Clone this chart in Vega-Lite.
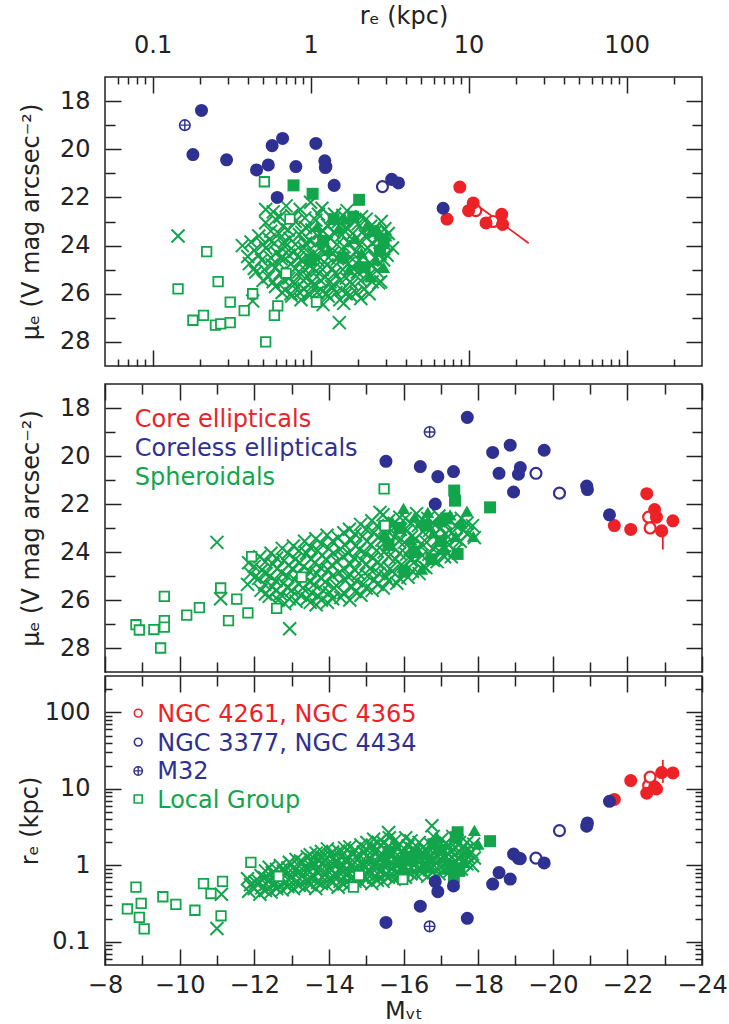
{
"$schema":"https://vega.github.io/schema/vega-lite/v6.json",
"background":"white",
"padding":{"left":17,"top":3,"right":10,"bottom":0},
"spacing":0,
"config":{
 "font":"DejaVu Sans",
 "view":{"stroke":"#222","strokeWidth":1.5},
 "axis":{"domain":false,"grid":false,"tickColor":"#222","tickWidth":1.5,"labelColor":"#222","titleColor":"#222","labelFont":"DejaVu Sans","titleFont":"DejaVu Sans","labelFontSize":24,"titleFontSize":24,"titleFontWeight":"normal","labelOverlap":false,"labelFlush":false}
},
"datasets":{
 "ell":[
  {"cls":"core","k":"f","re":8.8,"mu":21.57,"M":-22.52},
  {"cls":"core","k":"f","re":10.7,"mu":22.23,"M":-22.73},
  {"cls":"core","k":"f","re":7.3,"mu":22.9,"M":-21.65},
  {"cls":"core","k":"f","re":12.9,"mu":23.06,"M":-22.09},
  {"cls":"core","k":"f","re":16.4,"mu":23.12,"M":-22.92},
  {"cls":"core","k":"f","re":16.2,"mu":22.7,"M":-23.22},
  {"cls":"core","k":"f","re":10.0,"mu":22.55,"M":-22.78},
  {"cls":"core","k":"o","re":11.1,"mu":22.55,"M":-22.57},
  {"cls":"core","k":"o","re":14.3,"mu":23.0,"M":-22.61},
  {"cls":"coreless","k":"f","re":0.204,"mu":18.39,"M":-17.71},
  {"cls":"coreless","k":"f","re":0.18,"mu":20.22,"M":-15.53},
  {"cls":"coreless","k":"f","re":0.294,"mu":20.44,"M":-16.45},
  {"cls":"coreless","k":"f","re":0.455,"mu":20.86,"M":-16.92},
  {"cls":"coreless","k":"f","re":0.54,"mu":20.65,"M":-17.34},
  {"cls":"coreless","k":"f","re":0.615,"mu":22.0,"M":-16.85},
  {"cls":"coreless","k":"f","re":0.571,"mu":19.85,"M":-18.39},
  {"cls":"coreless","k":"f","re":0.665,"mu":19.55,"M":-18.86},
  {"cls":"coreless","k":"f","re":0.807,"mu":20.72,"M":-18.56},
  {"cls":"coreless","k":"f","re":1.08,"mu":19.76,"M":-19.77},
  {"cls":"coreless","k":"f","re":1.23,"mu":20.48,"M":-19.13},
  {"cls":"coreless","k":"f","re":1.24,"mu":20.76,"M":-19.08},
  {"cls":"coreless","k":"f","re":1.41,"mu":21.5,"M":-18.95},
  {"cls":"coreless","k":"f","re":3.26,"mu":21.25,"M":-20.91},
  {"cls":"coreless","k":"f","re":3.6,"mu":21.4,"M":-20.93},
  {"cls":"coreless","k":"f","re":6.9,"mu":22.45,"M":-21.52},
  {"cls":"coreless","k":"o","re":2.85,"mu":21.55,"M":-20.18},
  {"cls":"coreless","k":"o","re":1.25,"mu":20.72,"M":-19.55},
  {"cls":"coreless","k":"m","re":0.16,"mu":19.0,"M":-16.7}
 ],
 "err":[
  {"p":"t","re":12,"re2":24,"mu":22.45,"mu2":23.9},
  {"p":"m","M":-22.95,"mu":23.1,"mu2":23.9},
  {"p":"b","M":-22.95,"re":12,"re2":24}
 ],
 "sphT":[
  {"k":"x","re":0.58,"mu":22.6},{"k":"x","re":0.7,"mu":22.35},{"k":"x","re":0.86,"mu":22.5},{"k":"x","re":1.0,"mu":22.2},{"k":"x","re":1.18,"mu":22.45},{"k":"x","re":1.42,"mu":22.7},{"k":"x","re":1.7,"mu":22.55},{"k":"x","re":2.1,"mu":22.8},
  {"k":"x","re":0.52,"mu":23.05},{"k":"x","re":0.6,"mu":22.9},{"k":"x","re":0.67,"mu":23.2},{"k":"x","re":0.8,"mu":23.0},{"k":"x","re":0.93,"mu":23.25},{"k":"x","re":1.08,"mu":22.95},{"k":"x","re":1.28,"mu":23.15},{"k":"x","re":1.5,"mu":23.0},{"k":"x","re":1.72,"mu":23.3},{"k":"x","re":2.0,"mu":23.1},{"k":"x","re":2.4,"mu":23.2},{"k":"x","re":2.8,"mu":23.0},
  {"k":"x","re":0.47,"mu":23.6},{"k":"x","re":0.55,"mu":23.75},{"k":"x","re":0.63,"mu":23.5},{"k":"x","re":0.74,"mu":23.7},{"k":"x","re":0.85,"mu":23.55},{"k":"x","re":0.99,"mu":23.8},{"k":"x","re":1.14,"mu":23.5},{"k":"x","re":1.33,"mu":23.7},{"k":"x","re":1.58,"mu":23.55},{"k":"x","re":1.88,"mu":23.8},{"k":"x","re":2.22,"mu":23.6},{"k":"x","re":2.65,"mu":23.75},{"k":"x","re":3.1,"mu":23.5},
  {"k":"x","re":0.37,"mu":24.0},{"k":"x","re":0.44,"mu":24.2},{"k":"x","re":0.52,"mu":24.1},{"k":"x","re":0.61,"mu":24.3},{"k":"x","re":0.69,"mu":24.05},{"k":"x","re":0.79,"mu":24.25},{"k":"x","re":0.91,"mu":24.1},{"k":"x","re":1.04,"mu":24.35},{"k":"x","re":1.19,"mu":24.15},{"k":"x","re":1.38,"mu":24.3},{"k":"x","re":1.63,"mu":24.05},{"k":"x","re":1.93,"mu":24.25},{"k":"x","re":2.3,"mu":24.1},{"k":"x","re":2.75,"mu":24.35},{"k":"x","re":3.3,"mu":24.1},
  {"k":"x","re":0.41,"mu":24.75},{"k":"x","re":0.49,"mu":24.6},{"k":"x","re":0.57,"mu":24.8},{"k":"x","re":0.65,"mu":24.55},{"k":"x","re":0.75,"mu":24.75},{"k":"x","re":0.87,"mu":24.6},{"k":"x","re":0.99,"mu":24.85},{"k":"x","re":1.11,"mu":24.6},{"k":"x","re":1.27,"mu":24.8},{"k":"x","re":1.48,"mu":24.55},{"k":"x","re":1.73,"mu":24.75},{"k":"x","re":2.03,"mu":24.6},{"k":"x","re":2.45,"mu":24.8},{"k":"x","re":2.9,"mu":24.6},
  {"k":"x","re":0.45,"mu":25.1},{"k":"x","re":0.54,"mu":25.3},{"k":"x","re":0.64,"mu":25.15},{"k":"x","re":0.73,"mu":25.35},{"k":"x","re":0.84,"mu":25.1},{"k":"x","re":0.96,"mu":25.3},{"k":"x","re":1.09,"mu":25.05},{"k":"x","re":1.24,"mu":25.3},{"k":"x","re":1.43,"mu":25.15},{"k":"x","re":1.68,"mu":25.35},{"k":"x","re":1.98,"mu":25.1},{"k":"x","re":2.33,"mu":25.25},{"k":"x","re":2.78,"mu":25.5},
  {"k":"x","re":0.6,"mu":25.7},{"k":"x","re":0.69,"mu":25.85},{"k":"x","re":0.79,"mu":25.6},{"k":"x","re":0.91,"mu":25.8},{"k":"x","re":1.04,"mu":25.65},{"k":"x","re":1.19,"mu":25.9},{"k":"x","re":1.36,"mu":25.7},{"k":"x","re":1.58,"mu":25.85},{"k":"x","re":1.83,"mu":25.6},{"k":"x","re":2.18,"mu":25.8},{"k":"x","re":2.7,"mu":25.55},
  {"k":"x","re":0.76,"mu":26.1},{"k":"x","re":0.87,"mu":26.25},{"k":"x","re":0.99,"mu":26.05},{"k":"x","re":1.14,"mu":26.3},{"k":"x","re":1.29,"mu":26.1},{"k":"x","re":1.53,"mu":26.25},{"k":"x","re":1.78,"mu":26.05},{"k":"x","re":2.08,"mu":26.2},
  {"k":"x","re":0.64,"mu":22.8},{"k":"x","re":0.76,"mu":22.75},{"k":"x","re":0.92,"mu":22.85},{"k":"x","re":1.12,"mu":22.7},{"k":"x","re":1.35,"mu":22.85},{"k":"x","re":1.6,"mu":22.75},{"k":"x","re":1.9,"mu":22.95},{"k":"x","re":2.25,"mu":22.9},
  {"k":"x","re":0.56,"mu":23.4},{"k":"x","re":0.72,"mu":23.35},{"k":"x","re":0.88,"mu":23.45},{"k":"x","re":1.02,"mu":23.35},{"k":"x","re":1.2,"mu":23.4},{"k":"x","re":1.4,"mu":23.45},{"k":"x","re":1.62,"mu":23.35},{"k":"x","re":1.85,"mu":23.5},{"k":"x","re":2.15,"mu":23.4},{"k":"x","re":2.55,"mu":23.45},{"k":"x","re":2.95,"mu":23.3},
  {"k":"x","re":0.42,"mu":23.85},{"k":"x","re":0.5,"mu":23.95},{"k":"x","re":0.59,"mu":23.9},{"k":"x","re":0.68,"mu":23.85},{"k":"x","re":0.8,"mu":23.95},{"k":"x","re":0.93,"mu":23.9},{"k":"x","re":1.07,"mu":23.95},{"k":"x","re":1.25,"mu":23.9},{"k":"x","re":1.47,"mu":23.95},{"k":"x","re":1.75,"mu":23.9},{"k":"x","re":2.05,"mu":23.95},{"k":"x","re":2.45,"mu":23.9},{"k":"x","re":2.95,"mu":23.95},
  {"k":"x","re":0.4,"mu":24.45},{"k":"x","re":0.47,"mu":24.4},{"k":"x","re":0.56,"mu":24.5},{"k":"x","re":0.66,"mu":24.45},{"k":"x","re":0.73,"mu":24.4},{"k":"x","re":0.84,"mu":24.5},{"k":"x","re":0.96,"mu":24.45},{"k":"x","re":1.12,"mu":24.45},{"k":"x","re":1.3,"mu":24.5},{"k":"x","re":1.52,"mu":24.4},{"k":"x","re":1.8,"mu":24.5},{"k":"x","re":2.15,"mu":24.45},{"k":"x","re":2.55,"mu":24.5},{"k":"x","re":3.05,"mu":24.4},
  {"k":"x","re":0.44,"mu":24.95},{"k":"x","re":0.51,"mu":25.0},{"k":"x","re":0.6,"mu":24.9},{"k":"x","re":0.69,"mu":25.0},{"k":"x","re":0.8,"mu":24.95},{"k":"x","re":0.92,"mu":25.0},{"k":"x","re":1.04,"mu":24.95},{"k":"x","re":1.19,"mu":25.0},{"k":"x","re":1.37,"mu":24.95},{"k":"x","re":1.6,"mu":25.0},{"k":"x","re":1.86,"mu":24.95},{"k":"x","re":2.2,"mu":25.0},{"k":"x","re":2.62,"mu":25.05},
  {"k":"x","re":0.5,"mu":25.45},{"k":"x","re":0.58,"mu":25.5},{"k":"x","re":0.68,"mu":25.45},{"k":"x","re":0.78,"mu":25.5},{"k":"x","re":0.9,"mu":25.45},{"k":"x","re":1.02,"mu":25.5},{"k":"x","re":1.16,"mu":25.45},{"k":"x","re":1.33,"mu":25.5},{"k":"x","re":1.54,"mu":25.45},{"k":"x","re":1.78,"mu":25.5},{"k":"x","re":2.08,"mu":25.45},{"k":"x","re":2.45,"mu":25.5},
  {"k":"x","re":0.66,"mu":25.95},{"k":"x","re":0.75,"mu":26.0},{"k":"x","re":0.85,"mu":25.95},{"k":"x","re":0.97,"mu":26.0},{"k":"x","re":1.1,"mu":25.95},{"k":"x","re":1.26,"mu":26.0},{"k":"x","re":1.45,"mu":25.95},{"k":"x","re":1.68,"mu":26.0},{"k":"x","re":1.95,"mu":25.95},{"k":"x","re":2.35,"mu":26.0},
  {"k":"x","re":1.2,"mu":26.45},{"k":"x","re":1.62,"mu":26.4},
  {"k":"x","re":0.145,"mu":23.6},{"k":"x","re":1.52,"mu":27.2},{"k":"x","re":0.43,"mu":26.3},{"k":"x","re":0.52,"mu":22.5},
  {"k":"s","re":0.78,"mu":21.5},{"k":"s","re":1.03,"mu":21.85},{"k":"s","re":2.03,"mu":22.1},{"k":"s","re":1.86,"mu":22.8},{"k":"s","re":2.75,"mu":24.2},{"k":"s","re":2.9,"mu":23.9},{"k":"s","re":1.4,"mu":22.9},{"k":"s","re":1.2,"mu":23.8},{"k":"s","re":1.6,"mu":24.5},{"k":"s","re":2.2,"mu":24.9},{"k":"s","re":1.0,"mu":24.6},{"k":"s","re":2.5,"mu":23.4},
  {"k":"t","re":2.74,"mu":23.5},{"k":"t","re":2.3,"mu":23.1},{"k":"t","re":1.9,"mu":23.7},{"k":"t","re":1.5,"mu":23.3},{"k":"t","re":2.6,"mu":24.6},{"k":"t","re":2.1,"mu":24.3},{"k":"t","re":1.3,"mu":24.2},{"k":"t","re":1.75,"mu":25.0},{"k":"t","re":2.9,"mu":24.9},{"k":"t","re":1.1,"mu":23.2},{"k":"t","re":2.4,"mu":25.3},{"k":"t","re":3.0,"mu":23.6},{"k":"t","re":1.65,"mu":22.9},{"k":"t","re":2.0,"mu":24.8},
  {"k":"o","re":0.51,"mu":21.35},{"k":"o","re":0.74,"mu":22.9},{"k":"o","re":0.22,"mu":24.25},{"k":"o","re":0.145,"mu":25.8},{"k":"o","re":0.26,"mu":25.5},{"k":"o","re":0.43,"mu":26.0},{"k":"o","re":0.31,"mu":26.35},{"k":"o","re":0.38,"mu":26.7},{"k":"o","re":0.18,"mu":27.1},{"k":"o","re":0.21,"mu":26.9},{"k":"o","re":0.25,"mu":27.3},{"k":"o","re":0.27,"mu":27.25},{"k":"o","re":0.31,"mu":27.2},{"k":"o","re":0.62,"mu":26.5},{"k":"o","re":0.59,"mu":26.9},{"k":"o","re":0.52,"mu":28.0},{"k":"o","re":1.09,"mu":26.35},{"k":"o","re":0.7,"mu":25.15}
 ],
 "sphM":[
  {"k":"x","M":-11.85,"mu":24.45},{"k":"x","M":-11.9,"mu":24.9},{"k":"x","M":-11.82,"mu":25.35},
  {"k":"x","M":-12.15,"mu":24.2},{"k":"x","M":-12.2,"mu":24.75},{"k":"x","M":-12.12,"mu":25.1},{"k":"x","M":-12.18,"mu":25.6},
  {"k":"x","M":-12.45,"mu":24.05},{"k":"x","M":-12.5,"mu":24.5},{"k":"x","M":-12.42,"mu":25.0},{"k":"x","M":-12.48,"mu":25.45},{"k":"x","M":-12.4,"mu":25.85},
  {"k":"x","M":-12.75,"mu":23.85},{"k":"x","M":-12.8,"mu":24.35},{"k":"x","M":-12.72,"mu":24.85},{"k":"x","M":-12.78,"mu":25.3},{"k":"x","M":-12.7,"mu":25.75},{"k":"x","M":-12.82,"mu":26.15},
  {"k":"x","M":-13.05,"mu":23.75},{"k":"x","M":-13.1,"mu":24.3},{"k":"x","M":-13.02,"mu":24.7},{"k":"x","M":-13.08,"mu":25.15},{"k":"x","M":-13.0,"mu":25.6},{"k":"x","M":-13.12,"mu":26.05},
  {"k":"x","M":-13.35,"mu":23.55},{"k":"x","M":-13.4,"mu":24.05},{"k":"x","M":-13.32,"mu":24.6},{"k":"x","M":-13.38,"mu":25.05},{"k":"x","M":-13.3,"mu":25.5},{"k":"x","M":-13.42,"mu":25.95},
  {"k":"x","M":-13.65,"mu":23.45},{"k":"x","M":-13.7,"mu":23.95},{"k":"x","M":-13.62,"mu":24.45},{"k":"x","M":-13.68,"mu":24.9},{"k":"x","M":-13.6,"mu":25.35},{"k":"x","M":-13.72,"mu":25.85},{"k":"x","M":-13.66,"mu":26.2},
  {"k":"x","M":-13.95,"mu":23.3},{"k":"x","M":-14.0,"mu":23.85},{"k":"x","M":-13.92,"mu":24.3},{"k":"x","M":-13.98,"mu":24.75},{"k":"x","M":-13.9,"mu":25.25},{"k":"x","M":-14.02,"mu":25.7},{"k":"x","M":-13.96,"mu":26.1},
  {"k":"x","M":-14.25,"mu":23.4},{"k":"x","M":-14.3,"mu":23.9},{"k":"x","M":-14.22,"mu":24.4},{"k":"x","M":-14.28,"mu":24.85},{"k":"x","M":-14.2,"mu":25.4},{"k":"x","M":-14.32,"mu":25.9},
  {"k":"x","M":-14.55,"mu":23.05},{"k":"x","M":-14.6,"mu":23.5},{"k":"x","M":-14.52,"mu":24.05},{"k":"x","M":-14.58,"mu":24.5},{"k":"x","M":-14.5,"mu":25.0},{"k":"x","M":-14.62,"mu":25.45},{"k":"x","M":-14.56,"mu":26.0},
  {"k":"x","M":-14.85,"mu":22.85},{"k":"x","M":-14.9,"mu":23.35},{"k":"x","M":-14.82,"mu":23.9},{"k":"x","M":-14.88,"mu":24.35},{"k":"x","M":-14.8,"mu":24.9},{"k":"x","M":-14.92,"mu":25.35},{"k":"x","M":-14.86,"mu":25.8},
  {"k":"x","M":-15.15,"mu":22.7},{"k":"x","M":-15.2,"mu":23.2},{"k":"x","M":-15.12,"mu":23.7},{"k":"x","M":-15.18,"mu":24.25},{"k":"x","M":-15.1,"mu":24.7},{"k":"x","M":-15.22,"mu":25.15},{"k":"x","M":-15.16,"mu":25.6},
  {"k":"x","M":-15.45,"mu":22.45},{"k":"x","M":-15.5,"mu":23.0},{"k":"x","M":-15.42,"mu":23.5},{"k":"x","M":-15.48,"mu":24.0},{"k":"x","M":-15.4,"mu":24.55},{"k":"x","M":-15.52,"mu":25.0},{"k":"x","M":-15.46,"mu":25.5},
  {"k":"x","M":-15.75,"mu":22.8},{"k":"x","M":-15.8,"mu":23.3},{"k":"x","M":-15.72,"mu":23.8},{"k":"x","M":-15.78,"mu":24.3},{"k":"x","M":-15.7,"mu":24.8},{"k":"x","M":-15.82,"mu":25.3},
  {"k":"x","M":-16.05,"mu":22.6},{"k":"x","M":-16.1,"mu":23.1},{"k":"x","M":-16.02,"mu":23.6},{"k":"x","M":-16.08,"mu":24.1},{"k":"x","M":-16.0,"mu":24.6},{"k":"x","M":-16.12,"mu":25.05},
  {"k":"x","M":-16.35,"mu":22.4},{"k":"x","M":-16.4,"mu":22.9},{"k":"x","M":-16.32,"mu":23.45},{"k":"x","M":-16.38,"mu":23.9},{"k":"x","M":-16.3,"mu":24.4},{"k":"x","M":-16.42,"mu":24.9},
  {"k":"x","M":-16.65,"mu":22.6},{"k":"x","M":-16.7,"mu":23.1},{"k":"x","M":-16.62,"mu":23.6},{"k":"x","M":-16.68,"mu":24.1},{"k":"x","M":-16.6,"mu":24.65},
  {"k":"x","M":-16.95,"mu":22.5},{"k":"x","M":-17.0,"mu":23.0},{"k":"x","M":-16.92,"mu":23.5},{"k":"x","M":-16.98,"mu":24.0},{"k":"x","M":-16.9,"mu":24.4},
  {"k":"x","M":-17.25,"mu":22.7},{"k":"x","M":-17.3,"mu":23.2},{"k":"x","M":-17.22,"mu":23.7},{"k":"x","M":-17.28,"mu":24.2},
  {"k":"x","M":-17.55,"mu":22.6},{"k":"x","M":-17.6,"mu":23.1},{"k":"x","M":-17.52,"mu":23.55},
  {"k":"x","M":-17.85,"mu":22.9},{"k":"x","M":-17.9,"mu":23.4},
  {"k":"x","M":-12.0,"mu":24.6},{"k":"x","M":-12.02,"mu":25.05},
  {"k":"x","M":-12.3,"mu":24.4},{"k":"x","M":-12.32,"mu":24.9},{"k":"x","M":-12.28,"mu":25.35},{"k":"x","M":-12.3,"mu":25.75},
  {"k":"x","M":-12.6,"mu":24.25},{"k":"x","M":-12.62,"mu":24.7},{"k":"x","M":-12.58,"mu":25.2},{"k":"x","M":-12.6,"mu":25.6},{"k":"x","M":-12.64,"mu":26.0},
  {"k":"x","M":-12.9,"mu":24.05},{"k":"x","M":-12.92,"mu":24.55},{"k":"x","M":-12.88,"mu":25.0},{"k":"x","M":-12.9,"mu":25.5},{"k":"x","M":-12.94,"mu":25.95},
  {"k":"x","M":-13.2,"mu":23.95},{"k":"x","M":-13.22,"mu":24.45},{"k":"x","M":-13.18,"mu":24.9},{"k":"x","M":-13.2,"mu":25.35},{"k":"x","M":-13.24,"mu":25.8},
  {"k":"x","M":-13.5,"mu":23.8},{"k":"x","M":-13.52,"mu":24.3},{"k":"x","M":-13.48,"mu":24.8},{"k":"x","M":-13.5,"mu":25.25},{"k":"x","M":-13.54,"mu":25.7},{"k":"x","M":-13.5,"mu":26.1},
  {"k":"x","M":-13.8,"mu":23.65},{"k":"x","M":-13.82,"mu":24.15},{"k":"x","M":-13.78,"mu":24.65},{"k":"x","M":-13.8,"mu":25.1},{"k":"x","M":-13.84,"mu":25.6},{"k":"x","M":-13.8,"mu":26.0},
  {"k":"x","M":-14.1,"mu":23.55},{"k":"x","M":-14.12,"mu":24.05},{"k":"x","M":-14.08,"mu":24.55},{"k":"x","M":-14.1,"mu":25.0},{"k":"x","M":-14.14,"mu":25.5},{"k":"x","M":-14.1,"mu":25.95},
  {"k":"x","M":-14.4,"mu":23.2},{"k":"x","M":-14.42,"mu":23.7},{"k":"x","M":-14.38,"mu":24.2},{"k":"x","M":-14.4,"mu":24.7},{"k":"x","M":-14.44,"mu":25.2},{"k":"x","M":-14.4,"mu":25.7},
  {"k":"x","M":-14.7,"mu":23.25},{"k":"x","M":-14.72,"mu":23.75},{"k":"x","M":-14.68,"mu":24.25},{"k":"x","M":-14.7,"mu":24.75},{"k":"x","M":-14.74,"mu":25.2},{"k":"x","M":-14.7,"mu":25.65},
  {"k":"x","M":-15.0,"mu":23.05},{"k":"x","M":-15.02,"mu":23.55},{"k":"x","M":-14.98,"mu":24.05},{"k":"x","M":-15.0,"mu":24.5},{"k":"x","M":-15.04,"mu":25.0},{"k":"x","M":-15.0,"mu":25.5},
  {"k":"x","M":-15.3,"mu":22.9},{"k":"x","M":-15.32,"mu":23.4},{"k":"x","M":-15.28,"mu":23.95},{"k":"x","M":-15.3,"mu":24.45},{"k":"x","M":-15.34,"mu":24.9},{"k":"x","M":-15.3,"mu":25.35},
  {"k":"x","M":-15.6,"mu":22.7},{"k":"x","M":-15.62,"mu":23.2},{"k":"x","M":-15.58,"mu":23.7},{"k":"x","M":-15.6,"mu":24.2},{"k":"x","M":-15.64,"mu":24.7},{"k":"x","M":-15.6,"mu":25.2},
  {"k":"x","M":-15.9,"mu":22.55},{"k":"x","M":-15.92,"mu":23.05},{"k":"x","M":-15.88,"mu":23.55},{"k":"x","M":-15.9,"mu":24.05},{"k":"x","M":-15.94,"mu":24.55},{"k":"x","M":-15.9,"mu":25.1},
  {"k":"x","M":-16.2,"mu":22.8},{"k":"x","M":-16.22,"mu":23.35},{"k":"x","M":-16.18,"mu":23.85},{"k":"x","M":-16.2,"mu":24.35},{"k":"x","M":-16.24,"mu":24.8},
  {"k":"x","M":-16.5,"mu":22.65},{"k":"x","M":-16.52,"mu":23.15},{"k":"x","M":-16.48,"mu":23.65},{"k":"x","M":-16.5,"mu":24.15},{"k":"x","M":-16.54,"mu":24.6},
  {"k":"x","M":-16.8,"mu":22.8},{"k":"x","M":-16.82,"mu":23.3},{"k":"x","M":-16.78,"mu":23.85},{"k":"x","M":-16.8,"mu":24.35},
  {"k":"x","M":-17.1,"mu":22.75},{"k":"x","M":-17.12,"mu":23.25},{"k":"x","M":-17.08,"mu":23.75},{"k":"x","M":-17.1,"mu":24.2},
  {"k":"x","M":-17.4,"mu":22.9},{"k":"x","M":-17.42,"mu":23.45},{"k":"x","M":-17.38,"mu":23.95},
  {"k":"x","M":-17.7,"mu":22.8},{"k":"x","M":-17.72,"mu":23.25},
  {"k":"x","M":-11.0,"mu":23.6},{"k":"x","M":-11.1,"mu":25.95},{"k":"x","M":-12.95,"mu":27.2},{"k":"x","M":-15.37,"mu":22.35},
  {"k":"s","M":-17.36,"mu":21.44},{"k":"s","M":-17.38,"mu":21.86},{"k":"s","M":-18.32,"mu":22.14},{"k":"s","M":-17.45,"mu":24.08},{"k":"s","M":-16.02,"mu":24.82},{"k":"s","M":-16.29,"mu":24.0},{"k":"s","M":-15.9,"mu":23.0},{"k":"s","M":-16.6,"mu":22.9},{"k":"s","M":-17.0,"mu":23.55},{"k":"s","M":-16.75,"mu":24.3},{"k":"s","M":-17.15,"mu":22.6},{"k":"s","M":-15.6,"mu":23.7},
  {"k":"t","M":-16.0,"mu":22.18},{"k":"t","M":-16.3,"mu":22.55},{"k":"t","M":-16.65,"mu":22.35},{"k":"t","M":-16.95,"mu":22.7},{"k":"t","M":-17.25,"mu":22.45},{"k":"t","M":-17.55,"mu":22.8},{"k":"t","M":-17.87,"mu":23.35},{"k":"t","M":-17.4,"mu":23.35},{"k":"t","M":-16.49,"mu":24.71},{"k":"t","M":-16.8,"mu":23.2},{"k":"t","M":-17.1,"mu":23.9},{"k":"t","M":-15.7,"mu":22.75},{"k":"t","M":-15.5,"mu":23.25},{"k":"t","M":-17.7,"mu":22.3},{"k":"t","M":-16.2,"mu":23.5},
  {"k":"o","M":-8.83,"mu":27.03},{"k":"o","M":-8.92,"mu":27.25},{"k":"o","M":-9.31,"mu":27.23},{"k":"o","M":-9.49,"mu":28.0},{"k":"o","M":-9.59,"mu":26.86},{"k":"o","M":-9.59,"mu":27.13},{"k":"o","M":-9.59,"mu":25.85},{"k":"o","M":-10.19,"mu":26.63},{"k":"o","M":-10.53,"mu":26.32},{"k":"o","M":-11.1,"mu":25.5},{"k":"o","M":-11.31,"mu":26.86},{"k":"o","M":-11.53,"mu":25.96},{"k":"o","M":-11.83,"mu":26.54},{"k":"o","M":-11.93,"mu":24.19},{"k":"o","M":-12.6,"mu":26.35},{"k":"o","M":-13.27,"mu":25.05},{"k":"o","M":-15.48,"mu":21.37},{"k":"o","M":-15.5,"mu":22.9}
 ],
 "sphB":[
  {"k":"x","M":-11.85,"re":0.46},{"k":"x","M":-11.9,"re":0.56},{"k":"x","M":-11.82,"re":0.67},
  {"k":"x","M":-12.15,"re":0.42},{"k":"x","M":-12.2,"re":0.51},{"k":"x","M":-12.12,"re":0.62},{"k":"x","M":-12.18,"re":0.74},
  {"k":"x","M":-12.45,"re":0.45},{"k":"x","M":-12.5,"re":0.55},{"k":"x","M":-12.42,"re":0.66},{"k":"x","M":-12.48,"re":0.8},{"k":"x","M":-12.4,"re":0.95},
  {"k":"x","M":-12.75,"re":0.48},{"k":"x","M":-12.8,"re":0.58},{"k":"x","M":-12.72,"re":0.7},{"k":"x","M":-12.78,"re":0.84},{"k":"x","M":-12.7,"re":1.0},
  {"k":"x","M":-13.05,"re":0.5},{"k":"x","M":-13.1,"re":0.6},{"k":"x","M":-13.02,"re":0.72},{"k":"x","M":-13.08,"re":0.87},{"k":"x","M":-13.0,"re":1.04},{"k":"x","M":-13.12,"re":1.2},
  {"k":"x","M":-13.35,"re":0.52},{"k":"x","M":-13.4,"re":0.63},{"k":"x","M":-13.32,"re":0.76},{"k":"x","M":-13.38,"re":0.92},{"k":"x","M":-13.3,"re":1.1},{"k":"x","M":-13.42,"re":1.3},
  {"k":"x","M":-13.65,"re":0.5},{"k":"x","M":-13.7,"re":0.6},{"k":"x","M":-13.62,"re":0.72},{"k":"x","M":-13.68,"re":0.86},{"k":"x","M":-13.6,"re":1.02},{"k":"x","M":-13.72,"re":1.22},{"k":"x","M":-13.66,"re":1.45},
  {"k":"x","M":-13.95,"re":0.55},{"k":"x","M":-14.0,"re":0.66},{"k":"x","M":-13.92,"re":0.8},{"k":"x","M":-13.98,"re":0.95},{"k":"x","M":-13.9,"re":1.15},{"k":"x","M":-14.02,"re":1.38},{"k":"x","M":-13.96,"re":1.65},
  {"k":"x","M":-14.25,"re":0.52},{"k":"x","M":-14.3,"re":0.62},{"k":"x","M":-14.22,"re":0.75},{"k":"x","M":-14.28,"re":0.9},{"k":"x","M":-14.2,"re":1.08},{"k":"x","M":-14.32,"re":1.3},{"k":"x","M":-14.26,"re":1.55},
  {"k":"x","M":-14.55,"re":0.56},{"k":"x","M":-14.6,"re":0.68},{"k":"x","M":-14.52,"re":0.82},{"k":"x","M":-14.58,"re":0.98},{"k":"x","M":-14.5,"re":1.18},{"k":"x","M":-14.62,"re":1.42},{"k":"x","M":-14.56,"re":1.75},
  {"k":"x","M":-14.85,"re":0.6},{"k":"x","M":-14.9,"re":0.72},{"k":"x","M":-14.82,"re":0.86},{"k":"x","M":-14.88,"re":1.03},{"k":"x","M":-14.8,"re":1.25},{"k":"x","M":-14.92,"re":1.5},{"k":"x","M":-14.86,"re":1.85},
  {"k":"x","M":-15.15,"re":0.58},{"k":"x","M":-15.2,"re":0.7},{"k":"x","M":-15.12,"re":0.84},{"k":"x","M":-15.18,"re":1.0},{"k":"x","M":-15.1,"re":1.2},{"k":"x","M":-15.22,"re":1.45},{"k":"x","M":-15.16,"re":1.8},{"k":"x","M":-15.2,"re":2.2},
  {"k":"x","M":-15.45,"re":0.62},{"k":"x","M":-15.5,"re":0.75},{"k":"x","M":-15.42,"re":0.9},{"k":"x","M":-15.48,"re":1.08},{"k":"x","M":-15.4,"re":1.3},{"k":"x","M":-15.52,"re":1.6},{"k":"x","M":-15.46,"re":2.0},{"k":"x","M":-15.6,"re":2.7},
  {"k":"x","M":-15.75,"re":0.66},{"k":"x","M":-15.8,"re":0.8},{"k":"x","M":-15.72,"re":0.96},{"k":"x","M":-15.78,"re":1.15},{"k":"x","M":-15.7,"re":1.4},{"k":"x","M":-15.82,"re":1.7},{"k":"x","M":-15.76,"re":2.1},
  {"k":"x","M":-16.05,"re":0.7},{"k":"x","M":-16.1,"re":0.84},{"k":"x","M":-16.02,"re":1.0},{"k":"x","M":-16.08,"re":1.2},{"k":"x","M":-16.0,"re":1.45},{"k":"x","M":-16.12,"re":1.8},{"k":"x","M":-16.06,"re":2.3},
  {"k":"x","M":-16.35,"re":0.75},{"k":"x","M":-16.4,"re":0.9},{"k":"x","M":-16.32,"re":1.08},{"k":"x","M":-16.38,"re":1.3},{"k":"x","M":-16.3,"re":1.6},{"k":"x","M":-16.42,"re":2.0},
  {"k":"x","M":-16.65,"re":0.72},{"k":"x","M":-16.7,"re":0.88},{"k":"x","M":-16.62,"re":1.05},{"k":"x","M":-16.68,"re":1.25},{"k":"x","M":-16.6,"re":1.55},{"k":"x","M":-16.72,"re":1.9},{"k":"x","M":-16.76,"re":3.3},
  {"k":"x","M":-16.95,"re":0.78},{"k":"x","M":-17.0,"re":0.95},{"k":"x","M":-16.92,"re":1.15},{"k":"x","M":-16.98,"re":1.4},{"k":"x","M":-16.9,"re":1.7},{"k":"x","M":-17.02,"re":2.2},
  {"k":"x","M":-17.25,"re":0.85},{"k":"x","M":-17.3,"re":1.0},{"k":"x","M":-17.22,"re":1.2},{"k":"x","M":-17.28,"re":1.5},{"k":"x","M":-17.2,"re":1.85},{"k":"x","M":-17.32,"re":2.4},
  {"k":"x","M":-17.55,"re":0.9},{"k":"x","M":-17.6,"re":1.1},{"k":"x","M":-17.52,"re":1.35},{"k":"x","M":-17.58,"re":1.65},{"k":"x","M":-17.5,"re":2.0},
  {"k":"x","M":-17.85,"re":1.0},{"k":"x","M":-17.9,"re":1.25},{"k":"x","M":-17.82,"re":1.5},{"k":"x","M":-17.88,"re":1.9},
  {"k":"x","M":-12.0,"re":0.5},{"k":"x","M":-12.02,"re":0.61},
  {"k":"x","M":-12.3,"re":0.47},{"k":"x","M":-12.32,"re":0.57},{"k":"x","M":-12.28,"re":0.69},{"k":"x","M":-12.3,"re":0.85},
  {"k":"x","M":-12.6,"re":0.5},{"k":"x","M":-12.62,"re":0.61},{"k":"x","M":-12.58,"re":0.74},{"k":"x","M":-12.6,"re":0.89},
  {"k":"x","M":-12.9,"re":0.53},{"k":"x","M":-12.92,"re":0.65},{"k":"x","M":-12.88,"re":0.78},{"k":"x","M":-12.9,"re":0.93},{"k":"x","M":-12.94,"re":1.1},
  {"k":"x","M":-13.2,"re":0.55},{"k":"x","M":-13.22,"re":0.67},{"k":"x","M":-13.18,"re":0.81},{"k":"x","M":-13.2,"re":0.98},{"k":"x","M":-13.24,"re":1.15},
  {"k":"x","M":-13.5,"re":0.56},{"k":"x","M":-13.52,"re":0.68},{"k":"x","M":-13.48,"re":0.82},{"k":"x","M":-13.5,"re":0.99},{"k":"x","M":-13.54,"re":1.18},{"k":"x","M":-13.5,"re":1.38},
  {"k":"x","M":-13.8,"re":0.58},{"k":"x","M":-13.82,"re":0.7},{"k":"x","M":-13.78,"re":0.85},{"k":"x","M":-13.8,"re":1.05},{"k":"x","M":-13.84,"re":1.28},{"k":"x","M":-13.8,"re":1.52},
  {"k":"x","M":-14.1,"re":0.6},{"k":"x","M":-14.12,"re":0.72},{"k":"x","M":-14.08,"re":0.87},{"k":"x","M":-14.1,"re":1.05},{"k":"x","M":-14.14,"re":1.25},{"k":"x","M":-14.1,"re":1.5},
  {"k":"x","M":-14.4,"re":0.57},{"k":"x","M":-14.42,"re":0.69},{"k":"x","M":-14.38,"re":0.83},{"k":"x","M":-14.4,"re":1.0},{"k":"x","M":-14.44,"re":1.2},{"k":"x","M":-14.4,"re":1.45},{"k":"x","M":-14.42,"re":1.7},
  {"k":"x","M":-14.7,"re":0.62},{"k":"x","M":-14.72,"re":0.75},{"k":"x","M":-14.68,"re":0.9},{"k":"x","M":-14.7,"re":1.09},{"k":"x","M":-14.74,"re":1.32},{"k":"x","M":-14.7,"re":1.6},
  {"k":"x","M":-15.0,"re":0.65},{"k":"x","M":-15.02,"re":0.78},{"k":"x","M":-14.98,"re":0.94},{"k":"x","M":-15.0,"re":1.12},{"k":"x","M":-15.04,"re":1.36},{"k":"x","M":-15.0,"re":1.65},{"k":"x","M":-15.02,"re":2.0},
  {"k":"x","M":-15.3,"re":0.64},{"k":"x","M":-15.32,"re":0.77},{"k":"x","M":-15.28,"re":0.92},{"k":"x","M":-15.3,"re":1.1},{"k":"x","M":-15.34,"re":1.33},{"k":"x","M":-15.3,"re":1.62},{"k":"x","M":-15.32,"re":2.0},
  {"k":"x","M":-15.6,"re":0.7},{"k":"x","M":-15.62,"re":0.84},{"k":"x","M":-15.58,"re":1.0},{"k":"x","M":-15.6,"re":1.2},{"k":"x","M":-15.64,"re":1.45},{"k":"x","M":-15.6,"re":1.78},{"k":"x","M":-15.62,"re":2.3},
  {"k":"x","M":-15.9,"re":0.73},{"k":"x","M":-15.92,"re":0.88},{"k":"x","M":-15.88,"re":1.06},{"k":"x","M":-15.9,"re":1.28},{"k":"x","M":-15.94,"re":1.55},{"k":"x","M":-15.9,"re":1.9},
  {"k":"x","M":-16.2,"re":0.78},{"k":"x","M":-16.22,"re":0.93},{"k":"x","M":-16.18,"re":1.12},{"k":"x","M":-16.2,"re":1.35},{"k":"x","M":-16.24,"re":1.65},{"k":"x","M":-16.2,"re":2.1},
  {"k":"x","M":-16.5,"re":0.8},{"k":"x","M":-16.52,"re":0.97},{"k":"x","M":-16.48,"re":1.18},{"k":"x","M":-16.5,"re":1.42},{"k":"x","M":-16.54,"re":1.75},
  {"k":"x","M":-16.8,"re":0.83},{"k":"x","M":-16.82,"re":1.0},{"k":"x","M":-16.78,"re":1.2},{"k":"x","M":-16.8,"re":1.45},{"k":"x","M":-16.84,"re":1.8},{"k":"x","M":-16.8,"re":2.4},
  {"k":"x","M":-17.1,"re":0.86},{"k":"x","M":-17.12,"re":1.05},{"k":"x","M":-17.08,"re":1.28},{"k":"x","M":-17.1,"re":1.58},{"k":"x","M":-17.14,"re":1.95},
  {"k":"x","M":-17.4,"re":0.95},{"k":"x","M":-17.42,"re":1.12},{"k":"x","M":-17.38,"re":1.38},{"k":"x","M":-17.4,"re":1.7},{"k":"x","M":-17.44,"re":2.1},
  {"k":"x","M":-17.7,"re":1.05},{"k":"x","M":-17.72,"re":1.3},{"k":"x","M":-17.68,"re":1.6},{"k":"x","M":-17.7,"re":2.0},
  {"k":"x","M":-11.0,"re":0.15},{"k":"x","M":-11.12,"re":0.42},
  {"k":"s","M":-17.45,"re":2.72},{"k":"s","M":-18.32,"re":2.08},{"k":"s","M":-17.4,"re":2.35},{"k":"s","M":-16.2,"re":1.3},{"k":"s","M":-17.0,"re":1.6},{"k":"s","M":-16.6,"re":0.95},{"k":"s","M":-15.9,"re":1.1},{"k":"s","M":-17.3,"re":1.0},{"k":"s","M":-16.0,"re":0.75},{"k":"s","M":-17.5,"re":0.85},{"k":"s","M":-16.8,"re":1.9},{"k":"s","M":-15.6,"re":1.5},{"k":"s","M":-17.35,"re":0.7},
  {"k":"t","M":-17.9,"re":2.87},{"k":"t","M":-17.7,"re":1.5},{"k":"t","M":-16.4,"re":1.6},{"k":"t","M":-17.1,"re":1.25},{"k":"t","M":-16.9,"re":2.3},{"k":"t","M":-15.8,"re":1.85},{"k":"t","M":-16.1,"re":1.15},{"k":"t","M":-17.6,"re":1.1},{"k":"t","M":-17.2,"re":0.9},{"k":"t","M":-16.6,"re":1.4},{"k":"t","M":-15.5,"re":1.3},{"k":"t","M":-18.0,"re":1.9},
  {"k":"o","M":-8.83,"re":0.52},{"k":"o","M":-8.6,"re":0.27},{"k":"o","M":-8.97,"re":0.32},{"k":"o","M":-8.92,"re":0.21},{"k":"o","M":-9.05,"re":0.148},{"k":"o","M":-9.55,"re":0.39},{"k":"o","M":-9.9,"re":0.31},{"k":"o","M":-10.41,"re":0.26},{"k":"o","M":-10.64,"re":0.58},{"k":"o","M":-10.84,"re":0.43},{"k":"o","M":-11.15,"re":0.62},{"k":"o","M":-11.11,"re":0.22},{"k":"o","M":-11.91,"re":1.1},{"k":"o","M":-12.65,"re":0.72},{"k":"o","M":-14.66,"re":0.52},{"k":"o","M":-14.81,"re":0.74},{"k":"o","M":-15.98,"re":0.66}
 ],
 "legM":[
  {"lab":"Core ellipticals","cls":"core","M":-8.8,"mu":18.8},
  {"lab":"Coreless ellipticals","cls":"coreless","M":-8.8,"mu":20.0},
  {"lab":"Spheroidals","cls":"sph","M":-8.8,"mu":21.2}
 ],
 "legB":[
  {"lab":"NGC 4261, NGC 4365","cls":"core","sym":"open","M":-9.4,"re":75.7,"sre":98},
  {"lab":"NGC 3377, NGC 4434","cls":"coreless","sym":"open","M":-9.4,"re":31.6,"sre":41},
  {"lab":"M32","cls":"coreless","sym":"m32","M":-9.4,"re":13.4,"sre":17.2},
  {"lab":"Local Group","cls":"sph","sym":"lg","M":-9.4,"re":5.7,"sre":7.4}
 ]
},
"vconcat":[
 {
  "width":597,"height":289,
  "resolve":{"axis":{"x":"independent","y":"independent"}},
  "layer":[
   {"data":{"name":"sphT"},"transform":[{"filter":"datum.k=='x'"}],
    "mark":{"type":"point","shape":"M-1,-1L1,1M-1,1L1,-1","size":169,"filled":false,"color":"#12a54b","strokeWidth":2,"opacity":1},
    "encoding":{
     "x":{"field":"re","type":"quantitative","scale":{"type":"log","domain":[0.05,300],"nice":false},
      "axis":{"orient":"top","values":[0.06,0.07,0.08,0.09,0.1,0.2,0.3,0.4,0.5,0.6,0.7,0.8,0.9,1,2,3,4,5,6,7,8,9,10,20,30,40,50,60,70,80,90,100,200],"format":"~g",
       "labelExpr":"(datum.value==0.1||datum.value==1||datum.value==10||datum.value==100)?datum.label:''",
       "tickSize":{"condition":{"test":"datum.value==0.1||datum.value==1||datum.value==10||datum.value==100","value":-16},"value":-7},
       "labelPadding":36,"title":"rₑ (kpc)","titlePadding":-4}},
     "y":{"field":"mu","type":"quantitative","scale":{"domain":[17,29],"reverse":true,"nice":false,"zero":false},
      "axis":{"orient":"left","values":[18,19,20,21,22,23,24,25,26,27,28],
       "labelExpr":"datum.value%2==0?datum.label:''",
       "tickSize":{"condition":{"test":"datum.value%2==0","value":-16},"value":-10},
       "labelPadding":31,"title":"μₑ (V mag arcsec⁻²)","titlePadding":16}}}},
   {"data":{"name":"sphT"},"transform":[{"filter":"datum.k=='s'"}],
    "mark":{"type":"square","size":144,"color":"#12a54b","opacity":1},
    "encoding":{
     "x":{"field":"re","type":"quantitative","scale":{"type":"log","domain":[0.05,300],"nice":false},
      "axis":{"orient":"bottom","values":[0.06,0.07,0.08,0.09,0.1,0.2,0.3,0.4,0.5,0.6,0.7,0.8,0.9,1,2,3,4,5,6,7,8,9,10,20,30,40,50,60,70,80,90,100,200],"labels":false,"title":null,
       "tickSize":{"condition":{"test":"datum.value==0.1||datum.value==1||datum.value==10||datum.value==100","value":-16},"value":-7}}},
     "y":{"field":"mu","type":"quantitative","scale":{"domain":[17,29],"reverse":true,"nice":false,"zero":false},
      "axis":{"orient":"right","values":[18,19,20,21,22,23,24,25,26,27,28],"labels":false,"title":null,
       "tickSize":{"condition":{"test":"datum.value%2==0","value":-16},"value":-10}}}}},
   {"data":{"name":"sphT"},"transform":[{"filter":"datum.k=='t'"}],
    "mark":{"type":"point","shape":"triangle-up","filled":true,"size":170,"color":"#12a54b","opacity":1},
    "encoding":{"x":{"field":"re","type":"quantitative","scale":{"type":"log","domain":[0.05,300],"nice":false},"axis":null},"y":{"field":"mu","type":"quantitative","scale":{"domain":[17,29],"reverse":true,"nice":false,"zero":false},"axis":null}}},
   {"data":{"name":"sphT"},"transform":[{"filter":"datum.k=='o'"}],
    "mark":{"type":"point","shape":"square","filled":true,"fill":"white","stroke":"#12a54b","strokeWidth":1.8,"size":90,"opacity":1},
    "encoding":{"x":{"field":"re","type":"quantitative","scale":{"type":"log","domain":[0.05,300],"nice":false},"axis":null},"y":{"field":"mu","type":"quantitative","scale":{"domain":[17,29],"reverse":true,"nice":false,"zero":false},"axis":null}}},
   {"data":{"name":"err"},"transform":[{"filter":"datum.p=='t'"}],
    "mark":{"type":"rule","color":"#ec2227","strokeWidth":1.8},
    "encoding":{"x":{"field":"re","type":"quantitative","scale":{"type":"log","domain":[0.05,300],"nice":false},"axis":null},"y":{"field":"mu","type":"quantitative","scale":{"domain":[17,29],"reverse":true,"nice":false,"zero":false},"axis":null},"x2":{"field":"re2"},"y2":{"field":"mu2"}}},
   {"data":{"name":"ell"},"transform":[{"filter":"datum.k=='o'"}],
    "mark":{"type":"point","shape":"circle","filled":true,"fill":"white","strokeWidth":2.2,"size":120,"opacity":1},
    "encoding":{"x":{"field":"re","type":"quantitative","scale":{"type":"log","domain":[0.05,300],"nice":false},"axis":null},"y":{"field":"mu","type":"quantitative","scale":{"domain":[17,29],"reverse":true,"nice":false,"zero":false},"axis":null},
     "stroke":{"field":"cls","type":"nominal","scale":{"domain":["core","coreless","sph"],"range":["#ec2227","#2e3192","#12a54b"]},"legend":null}}},
   {"data":{"name":"ell"},"transform":[{"filter":"datum.k=='f'"}],
    "mark":{"type":"circle","size":170,"opacity":1},
    "encoding":{"x":{"field":"re","type":"quantitative","scale":{"type":"log","domain":[0.05,300],"nice":false},"axis":null},"y":{"field":"mu","type":"quantitative","scale":{"domain":[17,29],"reverse":true,"nice":false,"zero":false},"axis":null},
     "color":{"field":"cls","type":"nominal","scale":{"domain":["core","coreless","sph"],"range":["#ec2227","#2e3192","#12a54b"]},"legend":null}}},
   {"data":{"name":"ell"},"transform":[{"filter":"datum.k=='m'"}],
    "mark":{"type":"point","shape":"circle","filled":true,"fill":"white","stroke":"#2e3192","strokeWidth":1.6,"size":110,"opacity":1},
    "encoding":{"x":{"field":"re","type":"quantitative","scale":{"type":"log","domain":[0.05,300],"nice":false},"axis":null},"y":{"field":"mu","type":"quantitative","scale":{"domain":[17,29],"reverse":true,"nice":false,"zero":false},"axis":null}}},
   {"data":{"name":"ell"},"transform":[{"filter":"datum.k=='m'"}],
    "mark":{"type":"point","shape":"M-1,0L1,0M0,-1L0,1","filled":false,"color":"#2e3192","strokeWidth":1.4,"size":110,"opacity":1},
    "encoding":{"x":{"field":"re","type":"quantitative","scale":{"type":"log","domain":[0.05,300],"nice":false},"axis":null},"y":{"field":"mu","type":"quantitative","scale":{"domain":[17,29],"reverse":true,"nice":false,"zero":false},"axis":null}}}
  ]
 },
 {
  "width":597,"height":288,
  "title":{"text":" ","fontSize":12,"offset":1},
  "resolve":{"axis":{"x":"independent","y":"independent"}},
  "layer":[
   {"data":{"name":"sphM"},"transform":[{"filter":"datum.k=='x'"}],
    "mark":{"type":"point","shape":"M-1,-1L1,1M-1,1L1,-1","size":169,"filled":false,"color":"#12a54b","strokeWidth":2,"opacity":1},
    "encoding":{
     "x":{"field":"M","type":"quantitative","scale":{"domain":[-24,-8],"reverse":true,"nice":false,"zero":false},
      "axis":{"orient":"top","values":[-8,-9,-10,-11,-12,-13,-14,-15,-16,-17,-18,-19,-20,-21,-22,-23,-24],"labels":false,"title":null,
       "tickSize":{"condition":{"test":"datum.value%2==0","value":-16},"value":-10}}},
     "y":{"field":"mu","type":"quantitative","scale":{"domain":[17,29],"reverse":true,"nice":false,"zero":false},
      "axis":{"orient":"left","values":[18,19,20,21,22,23,24,25,26,27,28],
       "labelExpr":"datum.value%2==0?datum.label:''",
       "tickSize":{"condition":{"test":"datum.value%2==0","value":-16},"value":-10},
       "labelPadding":31,"title":"μₑ (V mag arcsec⁻²)","titlePadding":16}}}},
   {"data":{"name":"sphM"},"transform":[{"filter":"datum.k=='s'"}],
    "mark":{"type":"square","size":144,"color":"#12a54b","opacity":1},
    "encoding":{
     "x":{"field":"M","type":"quantitative","scale":{"domain":[-24,-8],"reverse":true,"nice":false,"zero":false},
      "axis":{"orient":"bottom","values":[-8,-9,-10,-11,-12,-13,-14,-15,-16,-17,-18,-19,-20,-21,-22,-23,-24],"labels":false,"title":null,
       "tickSize":{"condition":{"test":"datum.value%2==0","value":-16},"value":-10}}},
     "y":{"field":"mu","type":"quantitative","scale":{"domain":[17,29],"reverse":true,"nice":false,"zero":false},
      "axis":{"orient":"right","values":[18,19,20,21,22,23,24,25,26,27,28],"labels":false,"title":null,
       "tickSize":{"condition":{"test":"datum.value%2==0","value":-16},"value":-10}}}}},
   {"data":{"name":"sphM"},"transform":[{"filter":"datum.k=='t'"}],
    "mark":{"type":"point","shape":"triangle-up","filled":true,"size":170,"color":"#12a54b","opacity":1},
    "encoding":{"x":{"field":"M","type":"quantitative","scale":{"domain":[-24,-8],"reverse":true,"nice":false,"zero":false},"axis":null},"y":{"field":"mu","type":"quantitative","scale":{"domain":[17,29],"reverse":true,"nice":false,"zero":false},"axis":null}}},
   {"data":{"name":"sphM"},"transform":[{"filter":"datum.k=='o'"}],
    "mark":{"type":"point","shape":"square","filled":true,"fill":"white","stroke":"#12a54b","strokeWidth":1.8,"size":90,"opacity":1},
    "encoding":{"x":{"field":"M","type":"quantitative","scale":{"domain":[-24,-8],"reverse":true,"nice":false,"zero":false},"axis":null},"y":{"field":"mu","type":"quantitative","scale":{"domain":[17,29],"reverse":true,"nice":false,"zero":false},"axis":null}}},
   {"data":{"name":"err"},"transform":[{"filter":"datum.p=='m'"}],
    "mark":{"type":"rule","color":"#ec2227","strokeWidth":1.8},
    "encoding":{"x":{"field":"M","type":"quantitative","scale":{"domain":[-24,-8],"reverse":true,"nice":false,"zero":false},"axis":null},"y":{"field":"mu","type":"quantitative","scale":{"domain":[17,29],"reverse":true,"nice":false,"zero":false},"axis":null},"y2":{"field":"mu2"}}},
   {"data":{"name":"ell"},"transform":[{"filter":"datum.k=='o'"}],
    "mark":{"type":"point","shape":"circle","filled":true,"fill":"white","strokeWidth":2.2,"size":120,"opacity":1},
    "encoding":{"x":{"field":"M","type":"quantitative","scale":{"domain":[-24,-8],"reverse":true,"nice":false,"zero":false},"axis":null},"y":{"field":"mu","type":"quantitative","scale":{"domain":[17,29],"reverse":true,"nice":false,"zero":false},"axis":null},
     "stroke":{"field":"cls","type":"nominal","scale":{"domain":["core","coreless","sph"],"range":["#ec2227","#2e3192","#12a54b"]},"legend":null}}},
   {"data":{"name":"ell"},"transform":[{"filter":"datum.k=='f'"}],
    "mark":{"type":"circle","size":170,"opacity":1},
    "encoding":{"x":{"field":"M","type":"quantitative","scale":{"domain":[-24,-8],"reverse":true,"nice":false,"zero":false},"axis":null},"y":{"field":"mu","type":"quantitative","scale":{"domain":[17,29],"reverse":true,"nice":false,"zero":false},"axis":null},
     "color":{"field":"cls","type":"nominal","scale":{"domain":["core","coreless","sph"],"range":["#ec2227","#2e3192","#12a54b"]},"legend":null}}},
   {"data":{"name":"ell"},"transform":[{"filter":"datum.k=='m'"}],
    "mark":{"type":"point","shape":"circle","filled":true,"fill":"white","stroke":"#2e3192","strokeWidth":1.6,"size":110,"opacity":1},
    "encoding":{"x":{"field":"M","type":"quantitative","scale":{"domain":[-24,-8],"reverse":true,"nice":false,"zero":false},"axis":null},"y":{"field":"mu","type":"quantitative","scale":{"domain":[17,29],"reverse":true,"nice":false,"zero":false},"axis":null}}},
   {"data":{"name":"ell"},"transform":[{"filter":"datum.k=='m'"}],
    "mark":{"type":"point","shape":"M-1,0L1,0M0,-1L0,1","filled":false,"color":"#2e3192","strokeWidth":1.4,"size":110,"opacity":1},
    "encoding":{"x":{"field":"M","type":"quantitative","scale":{"domain":[-24,-8],"reverse":true,"nice":false,"zero":false},"axis":null},"y":{"field":"mu","type":"quantitative","scale":{"domain":[17,29],"reverse":true,"nice":false,"zero":false},"axis":null}}},
   {"data":{"name":"legM"},
    "mark":{"type":"text","align":"left","baseline":"alphabetic","fontSize":24,"font":"DejaVu Sans"},
    "encoding":{"x":{"field":"M","type":"quantitative","scale":{"domain":[-24,-8],"reverse":true,"nice":false,"zero":false},"axis":null},"y":{"field":"mu","type":"quantitative","scale":{"domain":[17,29],"reverse":true,"nice":false,"zero":false},"axis":null},
     "text":{"field":"lab"},
     "color":{"field":"cls","type":"nominal","scale":{"domain":["core","coreless","sph"],"range":["#ec2227","#2e3192","#12a54b"]},"legend":null}}}
  ]
 },
 {
  "width":597,"height":289,
  "resolve":{"axis":{"x":"independent","y":"independent"}},
  "layer":[
   {"data":{"name":"sphB"},"transform":[{"filter":"datum.k=='x'"}],
    "mark":{"type":"point","shape":"M-1,-1L1,1M-1,1L1,-1","size":169,"filled":false,"color":"#12a54b","strokeWidth":2,"opacity":1},
    "encoding":{
     "x":{"field":"M","type":"quantitative","scale":{"domain":[-24,-8],"reverse":true,"nice":false,"zero":false},
      "axis":{"orient":"bottom","values":[-8,-9,-10,-11,-12,-13,-14,-15,-16,-17,-18,-19,-20,-21,-22,-23,-24],
       "labelExpr":"datum.value%2==0?datum.label:''",
       "tickSize":{"condition":{"test":"datum.value%2==0","value":-16},"value":-10},
       "labelPadding":24,"title":"Mᵥₜ","titlePadding":-4}},
     "y":{"field":"re","type":"quantitative","scale":{"type":"log","domain":[0.05,300],"nice":false},
      "axis":{"orient":"left","values":[0.06,0.07,0.08,0.09,0.1,0.2,0.3,0.4,0.5,0.6,0.7,0.8,0.9,1,2,3,4,5,6,7,8,9,10,20,30,40,50,60,70,80,90,100,200],"format":"~g",
       "labelExpr":"(datum.value==0.1||datum.value==1||datum.value==10||datum.value==100)?datum.label:''",
       "tickSize":{"condition":{"test":"datum.value==0.1||datum.value==1||datum.value==10||datum.value==100","value":-16},"value":-7},
       "labelPadding":31,"title":"rₑ   (kpc)","titlePadding":2}}}},
   {"data":{"name":"sphB"},"transform":[{"filter":"datum.k=='s'"}],
    "mark":{"type":"square","size":144,"color":"#12a54b","opacity":1},
    "encoding":{
     "x":{"field":"M","type":"quantitative","scale":{"domain":[-24,-8],"reverse":true,"nice":false,"zero":false},
      "axis":{"orient":"top","values":[-8,-9,-10,-11,-12,-13,-14,-15,-16,-17,-18,-19,-20,-21,-22,-23,-24],"labels":false,"title":null,
       "tickSize":{"condition":{"test":"datum.value%2==0","value":-16},"value":-10}}},
     "y":{"field":"re","type":"quantitative","scale":{"type":"log","domain":[0.05,300],"nice":false},
      "axis":{"orient":"right","values":[0.06,0.07,0.08,0.09,0.1,0.2,0.3,0.4,0.5,0.6,0.7,0.8,0.9,1,2,3,4,5,6,7,8,9,10,20,30,40,50,60,70,80,90,100,200],"labels":false,"title":null,
       "tickSize":{"condition":{"test":"datum.value==0.1||datum.value==1||datum.value==10||datum.value==100","value":-16},"value":-7}}}}},
   {"data":{"name":"sphB"},"transform":[{"filter":"datum.k=='t'"}],
    "mark":{"type":"point","shape":"triangle-up","filled":true,"size":170,"color":"#12a54b","opacity":1},
    "encoding":{"x":{"field":"M","type":"quantitative","scale":{"domain":[-24,-8],"reverse":true,"nice":false,"zero":false},"axis":null},"y":{"field":"re","type":"quantitative","scale":{"type":"log","domain":[0.05,300],"nice":false},"axis":null}}},
   {"data":{"name":"sphB"},"transform":[{"filter":"datum.k=='o'"}],
    "mark":{"type":"point","shape":"square","filled":true,"fill":"white","stroke":"#12a54b","strokeWidth":1.8,"size":90,"opacity":1},
    "encoding":{"x":{"field":"M","type":"quantitative","scale":{"domain":[-24,-8],"reverse":true,"nice":false,"zero":false},"axis":null},"y":{"field":"re","type":"quantitative","scale":{"type":"log","domain":[0.05,300],"nice":false},"axis":null}}},
   {"data":{"name":"err"},"transform":[{"filter":"datum.p=='b'"}],
    "mark":{"type":"rule","color":"#ec2227","strokeWidth":1.8},
    "encoding":{"x":{"field":"M","type":"quantitative","scale":{"domain":[-24,-8],"reverse":true,"nice":false,"zero":false},"axis":null},"y":{"field":"re","type":"quantitative","scale":{"type":"log","domain":[0.05,300],"nice":false},"axis":null},"y2":{"field":"re2"}}},
   {"data":{"name":"ell"},"transform":[{"filter":"datum.k=='o'"}],
    "mark":{"type":"point","shape":"circle","filled":true,"fill":"white","strokeWidth":2.2,"size":120,"opacity":1},
    "encoding":{"x":{"field":"M","type":"quantitative","scale":{"domain":[-24,-8],"reverse":true,"nice":false,"zero":false},"axis":null},"y":{"field":"re","type":"quantitative","scale":{"type":"log","domain":[0.05,300],"nice":false},"axis":null},
     "stroke":{"field":"cls","type":"nominal","scale":{"domain":["core","coreless","sph"],"range":["#ec2227","#2e3192","#12a54b"]},"legend":null}}},
   {"data":{"name":"ell"},"transform":[{"filter":"datum.k=='f'"}],
    "mark":{"type":"circle","size":170,"opacity":1},
    "encoding":{"x":{"field":"M","type":"quantitative","scale":{"domain":[-24,-8],"reverse":true,"nice":false,"zero":false},"axis":null},"y":{"field":"re","type":"quantitative","scale":{"type":"log","domain":[0.05,300],"nice":false},"axis":null},
     "color":{"field":"cls","type":"nominal","scale":{"domain":["core","coreless","sph"],"range":["#ec2227","#2e3192","#12a54b"]},"legend":null}}},
   {"data":{"name":"ell"},"transform":[{"filter":"datum.k=='m'"}],
    "mark":{"type":"point","shape":"circle","filled":true,"fill":"white","stroke":"#2e3192","strokeWidth":1.6,"size":110,"opacity":1},
    "encoding":{"x":{"field":"M","type":"quantitative","scale":{"domain":[-24,-8],"reverse":true,"nice":false,"zero":false},"axis":null},"y":{"field":"re","type":"quantitative","scale":{"type":"log","domain":[0.05,300],"nice":false},"axis":null}}},
   {"data":{"name":"ell"},"transform":[{"filter":"datum.k=='m'"}],
    "mark":{"type":"point","shape":"M-1,0L1,0M0,-1L0,1","filled":false,"color":"#2e3192","strokeWidth":1.4,"size":110,"opacity":1},
    "encoding":{"x":{"field":"M","type":"quantitative","scale":{"domain":[-24,-8],"reverse":true,"nice":false,"zero":false},"axis":null},"y":{"field":"re","type":"quantitative","scale":{"type":"log","domain":[0.05,300],"nice":false},"axis":null}}},
   {"data":{"name":"legB"},
    "mark":{"type":"text","align":"left","baseline":"alphabetic","fontSize":24,"font":"DejaVu Sans"},
    "encoding":{"x":{"field":"M","type":"quantitative","scale":{"domain":[-24,-8],"reverse":true,"nice":false,"zero":false},"axis":null},"y":{"field":"re","type":"quantitative","scale":{"type":"log","domain":[0.05,300],"nice":false},"axis":null},
     "text":{"field":"lab"},
     "color":{"field":"cls","type":"nominal","scale":{"domain":["core","coreless","sph"],"range":["#ec2227","#2e3192","#12a54b"]},"legend":null}}},
   {"data":{"name":"legB"},"transform":[{"filter":"datum.sym=='open'"}],
    "mark":{"type":"point","shape":"circle","filled":true,"fill":"white","strokeWidth":1.6,"size":60,"opacity":1},
    "encoding":{"x":{"datum":-8.89,"type":"quantitative","scale":{"domain":[-24,-8],"reverse":true,"nice":false,"zero":false},"axis":null},"y":{"field":"sre","type":"quantitative","scale":{"type":"log","domain":[0.05,300],"nice":false},"axis":null},
     "stroke":{"field":"cls","type":"nominal","scale":{"domain":["core","coreless","sph"],"range":["#ec2227","#2e3192","#12a54b"]},"legend":null}}},
   {"data":{"name":"legB"},"transform":[{"filter":"datum.sym=='m32'"}],
    "mark":{"type":"point","shape":"circle","filled":true,"fill":"white","stroke":"#2e3192","strokeWidth":1.5,"size":70,"opacity":1},
    "encoding":{"x":{"datum":-8.89,"type":"quantitative","scale":{"domain":[-24,-8],"reverse":true,"nice":false,"zero":false},"axis":null},"y":{"field":"sre","type":"quantitative","scale":{"type":"log","domain":[0.05,300],"nice":false},"axis":null}}},
   {"data":{"name":"legB"},"transform":[{"filter":"datum.sym=='m32'"}],
    "mark":{"type":"point","shape":"M-1,0L1,0M0,-1L0,1","filled":false,"color":"#2e3192","strokeWidth":1.3,"size":70,"opacity":1},
    "encoding":{"x":{"datum":-8.89,"type":"quantitative","scale":{"domain":[-24,-8],"reverse":true,"nice":false,"zero":false},"axis":null},"y":{"field":"sre","type":"quantitative","scale":{"type":"log","domain":[0.05,300],"nice":false},"axis":null}}},
   {"data":{"name":"legB"},"transform":[{"filter":"datum.sym=='lg'"}],
    "mark":{"type":"point","shape":"square","filled":true,"fill":"white","stroke":"#12a54b","strokeWidth":1.6,"size":64,"opacity":1},
    "encoding":{"x":{"datum":-8.89,"type":"quantitative","scale":{"domain":[-24,-8],"reverse":true,"nice":false,"zero":false},"axis":null},"y":{"field":"sre","type":"quantitative","scale":{"type":"log","domain":[0.05,300],"nice":false},"axis":null}}}
  ]
 }
]
}
